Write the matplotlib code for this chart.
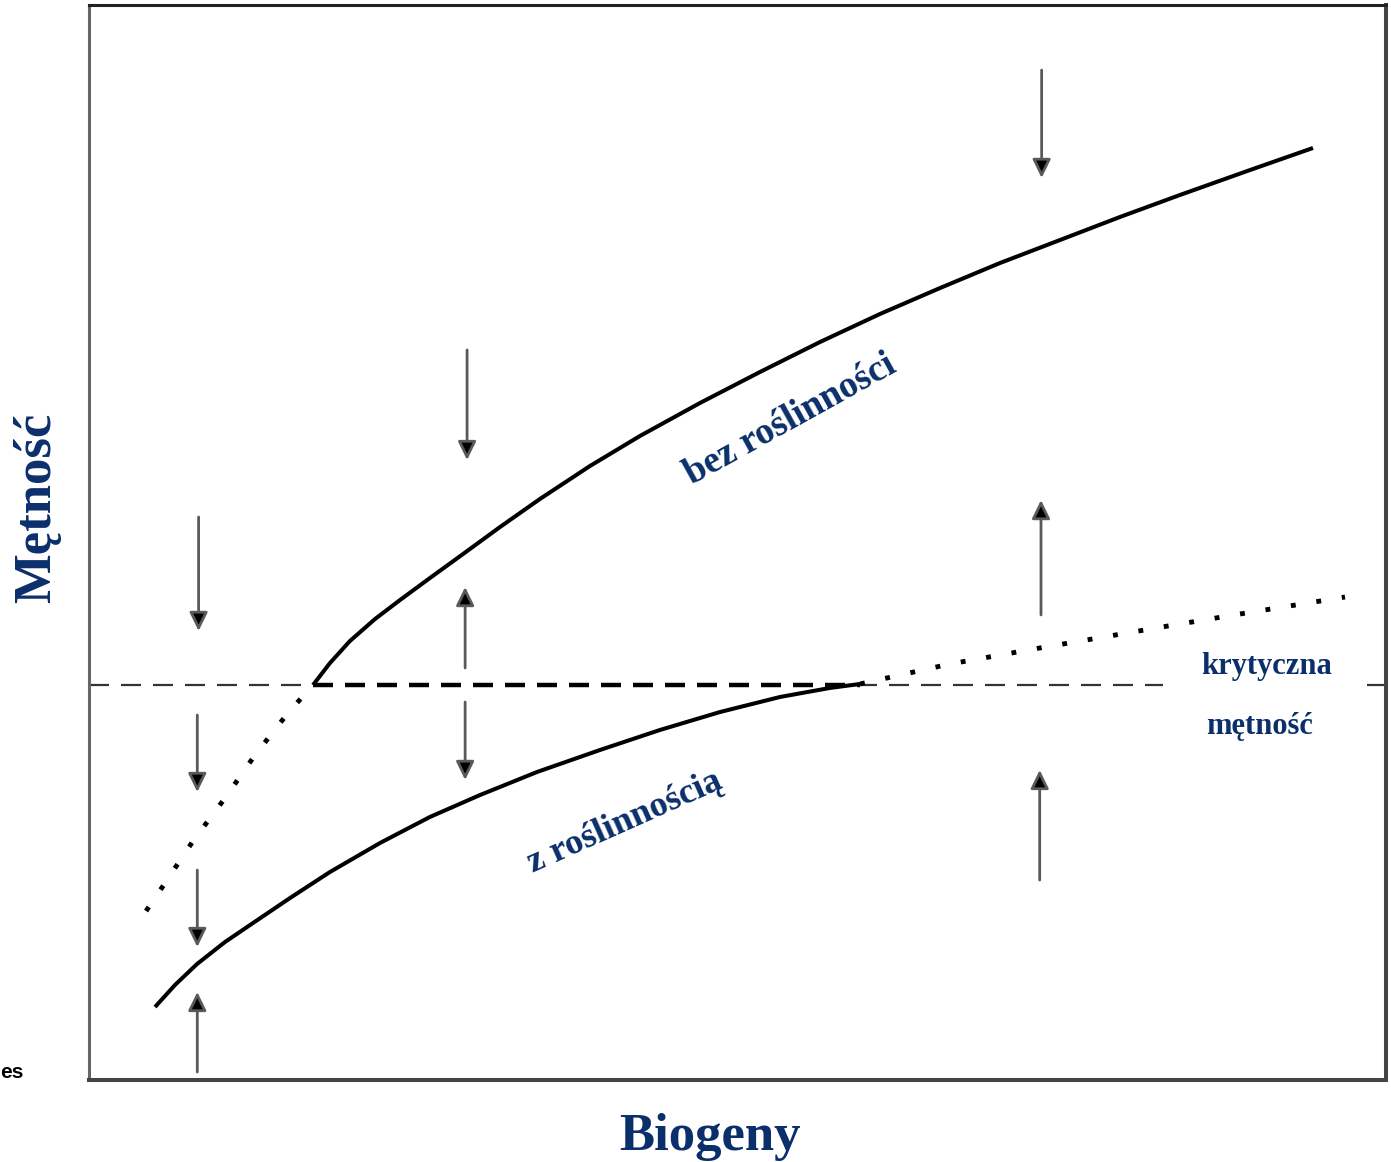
import matplotlib
matplotlib.use("Agg")
import matplotlib.pyplot as plt

# Wartości (jednostki umowne 0-100)
bez_x = [17.27, 18.58, 20.12, 22.05, 23.98, 26.29, 28.84, 31.69, 34.77, 38.63, 42.48,
         47.11, 51.73, 56.36, 60.99, 65.61, 70.24, 74.87, 79.49, 84.12, 89.52, 94.37]
bez_y = [36.74, 38.79, 40.84, 42.88, 44.65, 46.70, 48.93, 51.44, 54.05, 57.12, 59.91,
         62.98, 65.86, 68.65, 71.26, 73.67, 76.00, 78.14, 80.28, 82.33, 84.65, 86.70]

z_x = [5.09, 6.63, 8.33, 10.49, 12.64, 15.50, 18.58, 22.44, 26.29, 30.15, 34.54,
       39.40, 44.02, 48.65, 53.28, 57.13, 59.45]
z_y = [6.79, 8.84, 10.79, 12.84, 14.60, 16.93, 19.35, 22.05, 24.47, 26.51, 28.65,
       30.70, 32.56, 34.23, 35.63, 36.47, 36.84]

kropki_lewe_x = [4.40, 5.71, 8.02, 10.49, 12.80, 15.34, 17.27]
kropki_lewe_y = [15.72, 18.05, 22.23, 26.23, 30.23, 34.14, 36.74]

kropki_prawe_x = [59.45, 66.38, 73.32, 82.73, 88.74, 96.84]
kropki_prawe_y = [36.84, 38.70, 40.19, 42.14, 43.35, 44.93]

krytyczna_y = 36.74
krytyczna_gruba = (17.27, 59.45)
krytyczna_przerwa = (82.8, 98.5)

# strzałki: (x, y_start, y_koniec)
strzalki = [
    (8.45, 52.37, 41.77), (8.35, 33.95, 26.79), (8.35, 19.53, 12.37), (8.35, 0.74, 8.19),
    (29.15, 67.91, 57.67), (29.0, 38.33, 45.86), (29.0, 35.16, 27.91),
    (73.45, 93.95, 83.91), (73.40, 43.26, 53.95), (73.30, 18.60, 28.84),
]

granat = '#0b2f6b'
serif = ['Liberation Serif', 'DejaVu Serif']

fig = plt.figure(figsize=(13.91, 11.62), dpi=100)
ax = fig.add_axes([89 / 1391, 82 / 1162, 1297 / 1391, 1075 / 1162])
ax.set_xlim(0, 100)
ax.set_ylim(0, 100)
ax.set_xticks([])
ax.set_yticks([])

ax.spines['left'].set_color('#666666')
ax.spines['left'].set_linewidth(2.2)
ax.spines['top'].set_color('#222222')
ax.spines['top'].set_linewidth(2.2)
ax.spines['right'].set_color('#444444')
ax.spines['right'].set_linewidth(2.9)
ax.spines['bottom'].set_color('#444444')
ax.spines['bottom'].set_linewidth(2.9)

# linia krytycznej mętności
ax.plot([0, krytyczna_przerwa[0]], [krytyczna_y, krytyczna_y], color='#333333',
        lw=1.6, dashes=(9, 5.4), zorder=2)
ax.plot([krytyczna_przerwa[1], 100], [krytyczna_y, krytyczna_y], color='#333333',
        lw=1.6, dashes=(9, 5.4), zorder=2)
ax.plot(list(krytyczna_gruba), [krytyczna_y, krytyczna_y], color='black',
        lw=3.2, dashes=(4.5, 2.7), zorder=3)

# krzywe
ax.plot(bez_x, bez_y, color='black', lw=2.9, solid_capstyle='butt',
        solid_joinstyle='round', zorder=4)
ax.plot(z_x, z_y, color='black', lw=2.9, solid_capstyle='butt',
        solid_joinstyle='round', zorder=4)
ax.plot(kropki_lewe_x, kropki_lewe_y, color='black', lw=3.5, dashes=(1, 4.3),
        dash_capstyle='butt', zorder=4)
ax.plot(kropki_prawe_x, kropki_prawe_y, color='black', lw=3.5, dashes=(1, 4.3),
        dash_capstyle='butt', zorder=4)

for x, y0, y1 in strzalki:
    ax.annotate('', xy=(x, y1), xytext=(x, y0),
                arrowprops=dict(arrowstyle='-|>,head_length=0.45,head_width=0.22',
                                mutation_scale=25, lw=2.0, ec='#5a5a5a', fc='black',
                                shrinkA=0, shrinkB=0), zorder=5)

# opisy
ax.text(54.06, 61.40, 'bez roślinności', rotation=29, ha='center', va='center',
        fontsize=27, fontweight='bold', color=granat, family=serif)
ax.text(41.33, 24.0, 'z roślinnością', rotation=24, ha='center', va='center',
        fontsize=26, fontweight='bold', color=granat, family=serif)
ax.text(90.82, 38.42, 'krytyczna', ha='center', va='center',
        fontsize=22, fontweight='bold', color=granat, family=serif)
ax.text(90.28, 32.93, 'mętność', ha='center', va='center',
        fontsize=22, fontweight='bold', color=granat, family=serif)

fig.text(37 / 1391, 1 - 508 / 1162, 'Mętność', rotation=90, ha='center', va='center',
         fontsize=38, fontweight='bold', color=granat, family=serif)
fig.text(710 / 1391, 1 - 1137 / 1162, 'Biogeny', ha='center', va='center',
         fontsize=38, fontweight='bold', color=granat, family=serif)
fig.text(0.0, 1 - 1072 / 1162, 'es', ha='left', va='center',
         fontsize=15, fontweight='bold', color='black', family=['Liberation Sans', 'DejaVu Sans'])

fig.savefig('out.png', dpi=100)
